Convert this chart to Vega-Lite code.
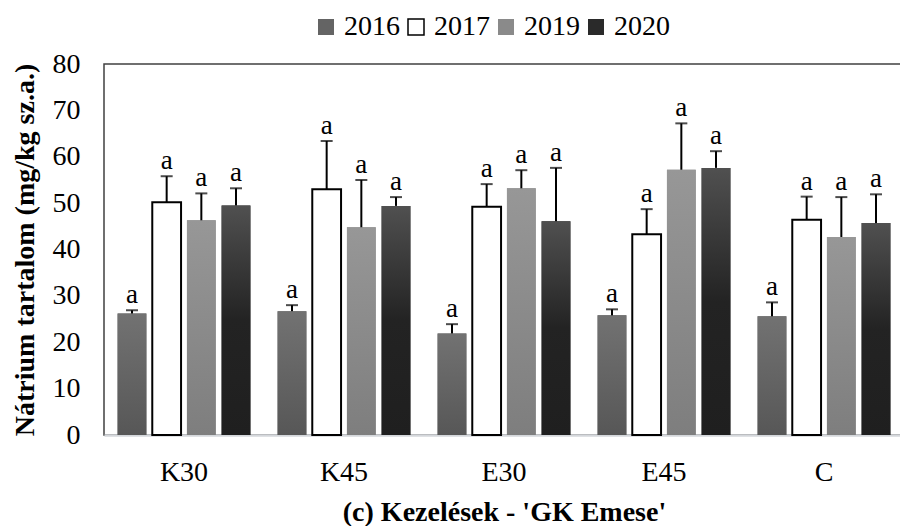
{
  "$schema": "https://vega.github.io/schema/vega-lite/v6.json",
  "width": 800,
  "height": 371,
  "autosize": "none",
  "padding": {"left": 104, "top": 64, "right": 0, "bottom": 91},
  "background": "white",
  "data": {
    "values": [
      {"group": "K30", "year": "2016", "value": 26.2, "err": 26.9, "letter": "a"},
      {"group": "K30", "year": "2017", "value": 50.2, "err": 55.8, "letter": "a"},
      {"group": "K30", "year": "2019", "value": 46.3, "err": 52.1, "letter": "a"},
      {"group": "K30", "year": "2020", "value": 49.5, "err": 53.2, "letter": "a"},
      {"group": "K45", "year": "2016", "value": 26.7, "err": 28.0, "letter": "a"},
      {"group": "K45", "year": "2017", "value": 53.0, "err": 63.4, "letter": "a"},
      {"group": "K45", "year": "2019", "value": 44.8, "err": 55.0, "letter": "a"},
      {"group": "K45", "year": "2020", "value": 49.4, "err": 51.3, "letter": "a"},
      {"group": "E30", "year": "2016", "value": 21.9, "err": 23.9, "letter": "a"},
      {"group": "E30", "year": "2017", "value": 49.2, "err": 54.1, "letter": "a"},
      {"group": "E30", "year": "2019", "value": 53.2, "err": 57.1, "letter": "a"},
      {"group": "E30", "year": "2020", "value": 46.1, "err": 57.6, "letter": "a"},
      {"group": "E45", "year": "2016", "value": 25.8, "err": 27.1, "letter": "a"},
      {"group": "E45", "year": "2017", "value": 43.3, "err": 48.7, "letter": "a"},
      {"group": "E45", "year": "2019", "value": 57.2, "err": 67.2, "letter": "a"},
      {"group": "E45", "year": "2020", "value": 57.6, "err": 61.2, "letter": "a"},
      {"group": "C", "year": "2016", "value": 25.6, "err": 28.6, "letter": "a"},
      {"group": "C", "year": "2017", "value": 46.4, "err": 51.4, "letter": "a"},
      {"group": "C", "year": "2019", "value": 42.7, "err": 51.3, "letter": "a"},
      {"group": "C", "year": "2020", "value": 45.7, "err": 51.9, "letter": "a"}
    ]
  },
  "encoding": {
    "x": {
      "field": "group",
      "type": "nominal",
      "sort": ["K30", "K45", "E30", "E45", "C"],
      "scale": {"paddingInner": 0.17, "paddingOuter": 0.085},
      "axis": {
        "title": "(c) Kezelések - 'GK Emese'",
        "labelAngle": 0,
        "labelFontSize": 28,
        "labelColor": "black",
        "labelPadding": 23,
        "ticks": false,
        "tickSize": 0,
        "domainColor": "#d4d7db",
        "domainWidth": 2.5,
        "titleFontSize": 28,
        "titleFontWeight": "bold",
        "titleColor": "black",
        "titlePadding": 12
      }
    },
    "xOffset": {
      "field": "year",
      "type": "nominal",
      "sort": ["2016", "2017", "2019", "2020"],
      "scale": {"paddingInner": 0.17, "paddingOuter": 0}
    },
    "y": {
      "field": "value",
      "type": "quantitative",
      "scale": {"domain": [0, 80], "nice": false},
      "axis": {
        "title": "Nátrium tartalom (mg/kg sz.a.)",
        "values": [0, 10, 20, 30, 40, 50, 60, 70, 80],
        "grid": false,
        "ticks": false,
        "tickSize": 0,
        "domain": false,
        "labelFontSize": 28,
        "labelColor": "black",
        "labelPadding": 24,
        "titleFontSize": 28,
        "titleFontWeight": "bold",
        "titleColor": "black",
        "titlePadding": 13
      }
    }
  },
  "layer": [
    {
      "mark": {"type": "bar", "strokeWidth": 2},
      "encoding": {
        "fill": {
          "field": "year",
          "type": "nominal",
          "scale": {
            "domain": ["2016", "2017", "2019", "2020"],
            "range": ["#646464", "#ffffff", "#8a8a8a", "#2a2a2a"]
          },
          "legend": {
            "title": null,
            "orient": "none",
            "legendX": 208,
            "legendY": -51,
            "direction": "horizontal",
            "columns": 4,
            "symbolType": "square",
            "symbolSize": 256,
            "symbolStrokeWidth": 1.5,
            "labelFontSize": 28,
            "labelColor": "black",
            "labelOffset": 4,
            "columnPadding": 2
          }
        },
        "stroke": {
          "field": "year",
          "type": "nominal",
          "scale": {
            "domain": ["2016", "2017", "2019", "2020"],
            "range": ["transparent", "#000000", "transparent", "transparent"]
          }
        }
      }
    },
    {
      "transform": [{"filter": "datum.year == '2016'"}],
      "mark": {"type": "bar", "fill": {"gradient": "linear", "x1": 0, "y1": 0, "x2": 0, "y2": 1, "stops": [{"offset": 0, "color": "#727272"}, {"offset": 1, "color": "#575757"}]}},
      "encoding": {}
    },
    {
      "transform": [{"filter": "datum.year == '2019'"}],
      "mark": {"type": "bar", "fill": {"gradient": "linear", "x1": 0, "y1": 0, "x2": 0, "y2": 1, "stops": [{"offset": 0, "color": "#979797"}, {"offset": 1, "color": "#7e7e7e"}]}},
      "encoding": {}
    },
    {
      "transform": [{"filter": "datum.year == '2020'"}],
      "mark": {"type": "bar", "fill": {"gradient": "linear", "x1": 0, "y1": 0, "x2": 0, "y2": 1, "stops": [{"offset": 0, "color": "#505050"}, {"offset": 0.5, "color": "#232323"}, {"offset": 1, "color": "#1f1f1f"}]}},
      "encoding": {}
    },
    {
      "mark": {"type": "rule", "color": "black", "strokeWidth": 2},
      "encoding": {
        "y2": {"field": "err"}
      }
    },
    {
      "mark": {"type": "tick", "color": "black", "size": 12, "thickness": 2},
      "encoding": {
        "y": {"field": "err", "type": "quantitative"}
      }
    },
    {
      "mark": {"type": "text", "fontSize": 27, "color": "black", "baseline": "bottom", "dy": -1},
      "encoding": {
        "y": {"field": "err", "type": "quantitative"},
        "text": {"field": "letter"}
      }
    }
  ],
  "config": {
    "font": "Liberation Serif",
    "axis": {"labelFont": "Liberation Serif", "titleFont": "Liberation Serif"},
    "legend": {"labelFont": "Liberation Serif", "titleFont": "Liberation Serif"},
    "text": {"font": "Liberation Serif"},
    "view": {"stroke": "#404040", "strokeWidth": 1.5}
  }
}
